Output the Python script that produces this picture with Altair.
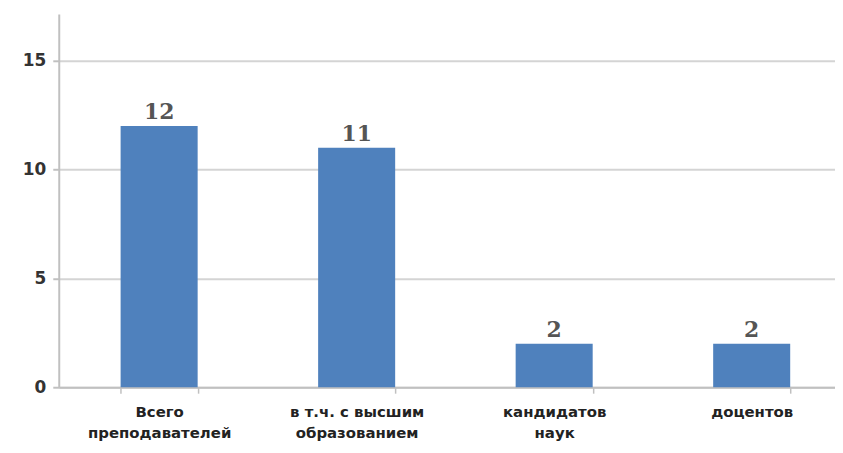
import altair as alt
import pandas as pd

categories = ["Всего\nпреподавателей", "в т.ч. с высшим\nобразованием", "кандидатов\nнаук", "доцентов"]
values = [12, 11, 2, 2]
y_ticks = [0, 5, 10, 15]

df = pd.DataFrame({"cat": categories, "val": values})

x = alt.X("cat:N", sort=categories, title=None,
          scale=alt.Scale(paddingInner=0.61, paddingOuter=0.27, align=0.58),
          axis=alt.Axis(labelAngle=0, labelExpr="split(datum.label, '\\n')",
                        labelFont="DejaVu Sans", labelFontWeight="bold", labelFontSize=15,
                        labelColor="#222", labelPadding=11, labelLineHeight=22,
                        domainColor="#c0c0c0", domainWidth=2, tickColor="#c0c0c0",
                        tickWidth=1.5, tickSize=6, tickBand="extent", grid=False))
y = alt.Y("val:Q", title=None,
          scale=alt.Scale(domain=[0, 17.15], nice=False),
          axis=alt.Axis(values=y_ticks, labelFont="DejaVu Sans", labelFontWeight="bold",
                        labelFontSize=17, labelColor="#333", labelPadding=7,
                        domainColor="#c0c0c0", domainWidth=2, tickColor="#c0c0c0",
                        tickWidth=2, tickSize=6, gridColor="#d4d4d4", gridWidth=2))

bars = alt.Chart(df).mark_bar(color="#4F81BD").encode(x=x, y=y)
labels = alt.Chart(df).mark_text(dy=-14, font="DejaVu Serif", fontSize=22, fontWeight="bold",
                                 color="#555").encode(
    x=alt.X("cat:N", sort=categories), y="val:Q", text="val:Q")

chart = (bars + labels).properties(
    width=780, height=375,
    padding={"left": 14, "top": 5, "right": 0, "bottom": 0}
).configure_view(stroke=None)
chart.save("out.html", embed_options={"renderer": "svg", "actions": False})
